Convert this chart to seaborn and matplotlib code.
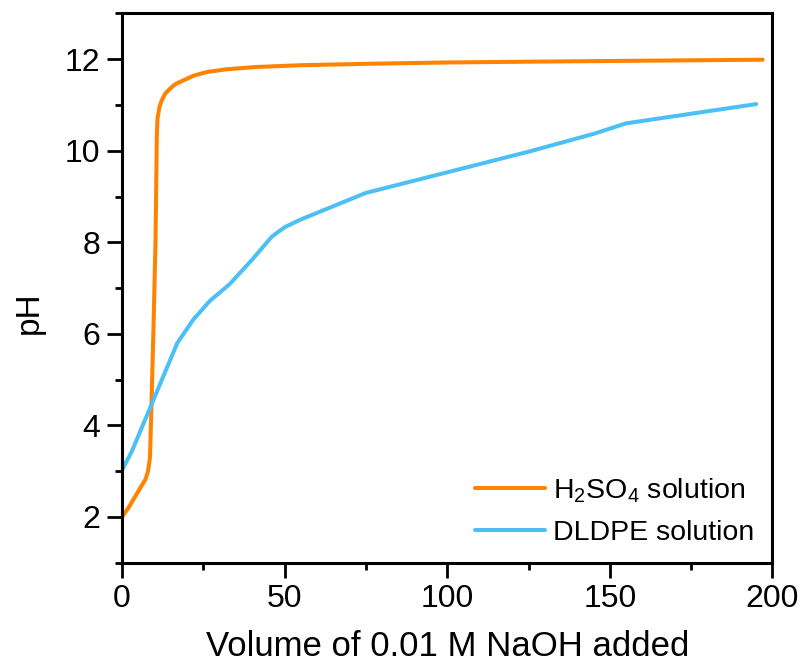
import numpy as np
import pandas as pd
import matplotlib
matplotlib.use("Agg")
import matplotlib.pyplot as plt
import seaborn as sns
from matplotlib.ticker import MultipleLocator

# H2SO4 titration curve
h2so4_x = [0, 2, 4, 6, 7.2, 8.0, 8.6, 9.0, 9.6, 10.3, 10.7, 10.9, 11.5, 12.2, 13.3, 14.8,
           16.5, 18.9, 22, 26, 32, 41, 55, 75, 100, 130, 163, 197]
h2so4_y = [2.0, 2.2, 2.44, 2.68, 2.82, 3.0, 3.3, 4.3, 5.9, 8.0, 10.3, 10.7, 10.95, 11.1, 11.25, 11.36,
           11.46, 11.54, 11.64, 11.72, 11.78, 11.83, 11.87, 11.9, 11.93, 11.95, 11.97, 11.99]

# DLDPE titration curve
dldpe_x = [0, 3, 17, 22, 27, 33, 40, 46, 50, 55, 75, 100, 125, 145, 155, 195]
dldpe_y = [3.02, 3.43, 5.80, 6.32, 6.72, 7.08, 7.62, 8.12, 8.33, 8.50, 9.08, 9.53, 9.98, 10.37, 10.60, 11.02]

labels = ["H$_2$SO$_4$ solution", "DLDPE solution"]
colors = ["#FF8300", "#4CC0F6"]

sns.set_style("ticks")
plt.rcParams["font.family"] = ["Liberation Sans", "DejaVu Sans"]
plt.rcParams["mathtext.fontset"] = "custom"
plt.rcParams["mathtext.rm"] = "Liberation Sans"
plt.rcParams["mathtext.default"] = "regular"
plt.rcParams["text.color"] = "black"
plt.rcParams["axes.labelcolor"] = "black"
plt.rcParams["xtick.color"] = "black"
plt.rcParams["ytick.color"] = "black"

fig = plt.figure(figsize=(8.08, 6.71), dpi=100)
ax = fig.add_axes([0.151, 0.1614, 0.805, 0.8185])

sns.lineplot(x=h2so4_x, y=h2so4_y, ax=ax, color=colors[0], lw=2.9, label=labels[0], sort=False)
sns.lineplot(x=dldpe_x, y=dldpe_y, ax=ax, color=colors[1], lw=2.9, label=labels[1], sort=False)

ax.set_xlim(0, 200)
ax.set_ylim(1, 13)
ax.xaxis.set_major_locator(MultipleLocator(50))
ax.xaxis.set_minor_locator(MultipleLocator(25))
ax.yaxis.set_major_locator(MultipleLocator(2))
ax.yaxis.set_minor_locator(MultipleLocator(1))

for s in ax.spines.values():
    s.set_visible(True)
    s.set_linewidth(2.2)
    s.set_color("black")

ax.tick_params(which="major", length=10.5, width=2.0, labelsize=23, direction="out",
               color="black", labelcolor="black", pad=5)
ax.tick_params(which="minor", length=5, width=2.0, direction="out", color="black")
ax.tick_params(top=False, right=False, which="both")

ax.set_xlabel("Volume of 0.01 M NaOH added", fontsize=25, color="black")
ax.set_ylabel("pH", fontsize=24, color="black")
ax.xaxis.set_label_coords(0.5, -0.122)
ax.yaxis.set_label_coords(-0.118, 0.455)

leg = ax.legend(loc="lower right", frameon=False, fontsize=20.5, handlelength=2.45,
                handletextpad=0.3, labelspacing=0.55, borderaxespad=0.0,
                bbox_to_anchor=(0.99, 0.009))

fig.savefig("out.png", dpi=100)
